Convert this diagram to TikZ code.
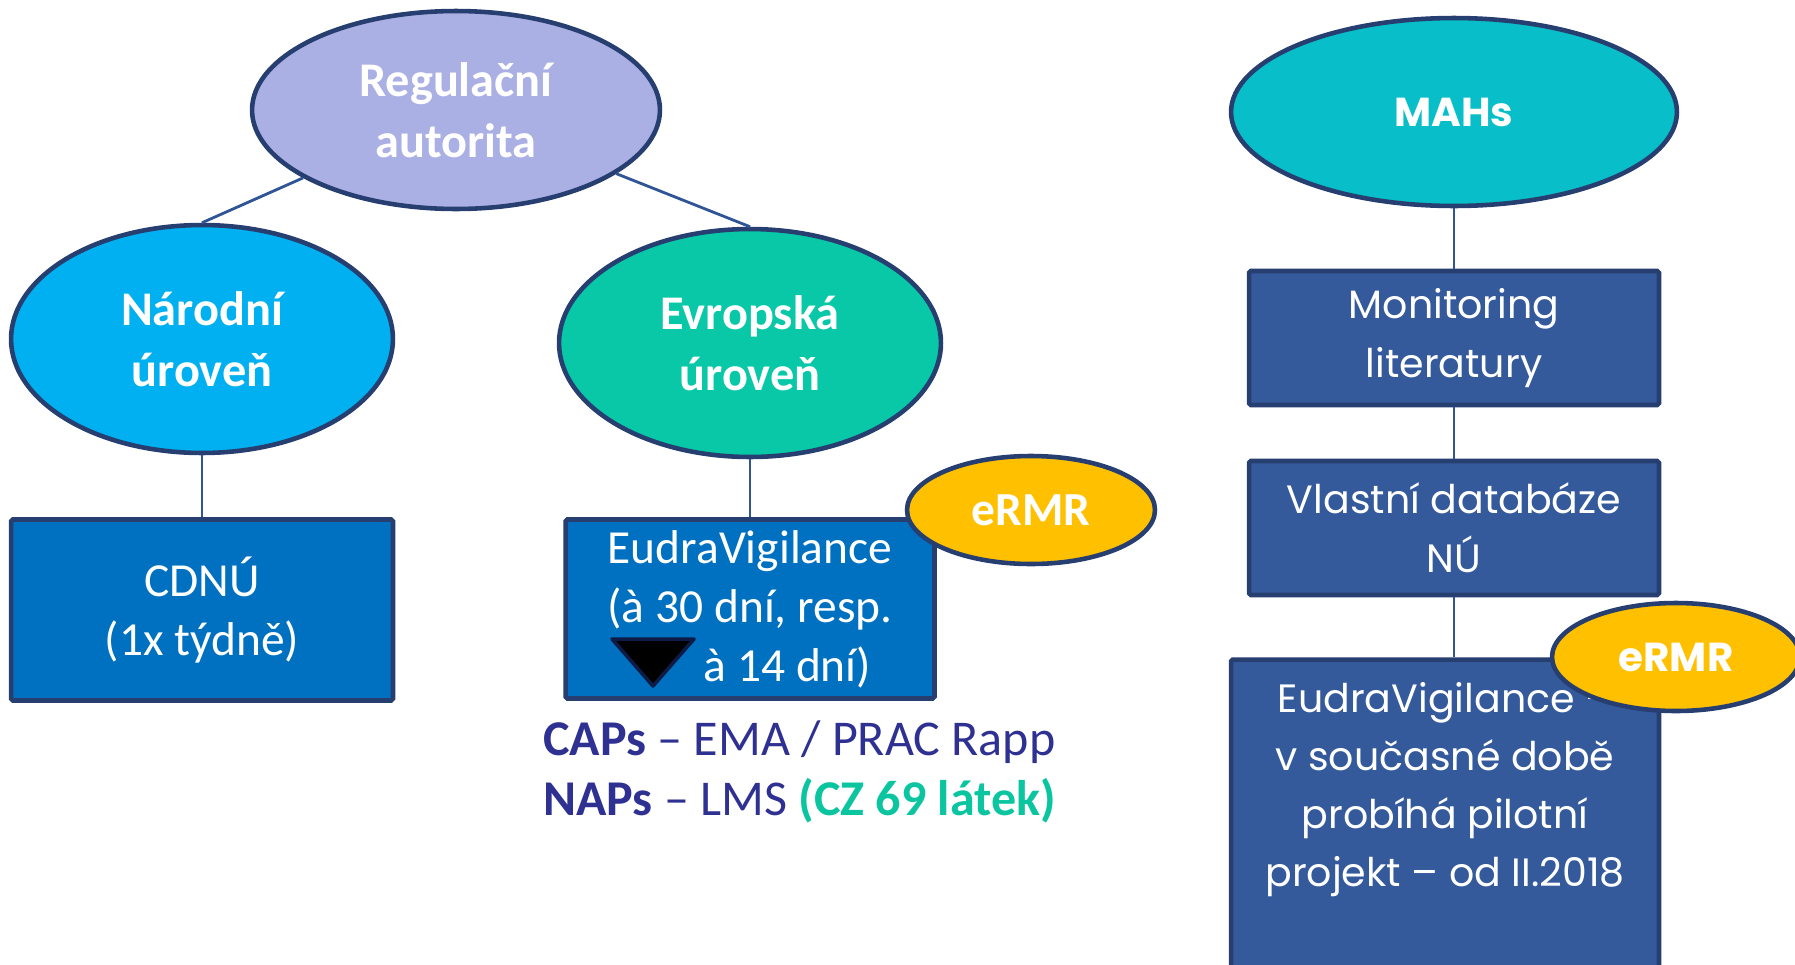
\documentclass[tikz,border=0pt]{standalone}
\usepackage{fontspec}
\setmainfont{Carlito}
\newfontfamily\widefont{Poppins}
\usetikzlibrary{positioning,shapes.geometric}

\definecolor{navy}{RGB}{38,62,112}
\definecolor{linkblue}{RGB}{47,85,151}
\definecolor{lavender}{RGB}{170,176,228}
\definecolor{skyblue}{RGB}{0,176,240}
\definecolor{evrgreen}{RGB}{8,200,168}
\definecolor{mahcyan}{RGB}{8,190,200}
\definecolor{boxblue}{RGB}{0,112,192}
\definecolor{rboxblue}{RGB}{52,90,155}
\definecolor{tagyellow}{RGB}{255,192,0}
\definecolor{capsblue}{RGB}{46,49,146}
\definecolor{latekgreen}{RGB}{11,197,160}
\definecolor{darknavy}{RGB}{13,27,70}

\begin{document}
\begin{tikzpicture}[x=0.02cm,y=-0.02cm,
	oval/.style={draw=navy, line width=2.6pt, ellipse, text=white, align=center, font=\bfseries\fontsize{27.5}{34.5}\selectfont},
	box/.style={draw=navy, line width=2.6pt, rounded corners=1pt, fill=boxblue, text=white, align=center, font=\fontsize{27}{33.5}\selectfont},
	rbox/.style={draw=navy, line width=2.6pt, rounded corners=1pt, fill=rboxblue, text=white, align=center, font=\widefont\fontsize{22.5}{33.5}\selectfont, minimum width=8.2cm, minimum height=2.68cm},
	tag/.style={draw=navy, line width=2.6pt, ellipse, fill=tagyellow, text=white, minimum width=4.96cm, minimum height=2.16cm},
	link/.style={draw=linkblue, line width=1.6pt}]
			\useasboundingbox (0,0) rectangle (1795,964);
			\clip (0,0) rectangle (1795,964);
			
			% regulacni autorita
			\node[oval, fill=lavender, minimum width=8.16cm, minimum height=3.96cm] (reg) at (456,110) {Regulační\\autorita};
			\node[oval, fill=skyblue, minimum width=7.64cm, minimum height=4.56cm] (nar) at (202,339) {Národní\\úroveň};
			\node[oval, fill=evrgreen, minimum width=7.64cm, minimum height=4.56cm] (evr) at (750,343) {Evropská\\úroveň};
			
			\node[box, minimum width=7.64cm, minimum height=3.62cm] (cdnu) at (202,610) {CDNÚ\\(1x týdně)};
			\node[box, minimum width=7.38cm, minimum height=3.58cm] (eudra) at (750,609) {EudraVigilance\\(à 30 dní, resp.\\\hspace*{1.5cm}à 14 dní)};
			\node[tag, font=\bfseries\fontsize{27}{32}\selectfont] (ermrA) at (1031,510) {eRMR};
			\filldraw[fill=black, draw=darknavy, line width=2pt, line join=round] (612,639) -- (694,639) -- (653,686) -- cycle;
			
			\node[anchor=west, inner sep=0pt, align=left, text=capsblue, font=\fontsize{28.5}{34.5}\selectfont] (caps) at (543,772)
				{\textbf{CAPs} – EMA / PRAC Rapp\\\textbf{NAPs} – LMS \textcolor{latekgreen}{\textbf{(CZ 69 látek)}}};
			
			\draw[link] (reg) -- (nar.north);
			\draw[link] (reg) -- (evr.north);
			\draw[link] (nar) -- (cdnu);
			\draw[link] (evr) -- (eudra);
			
			% MAHs
			\node[oval, fill=mahcyan, minimum width=8.92cm, minimum height=3.76cm, font=\widefont\bfseries\fontsize{23}{30}\selectfont] (mahs) at (1454,112) {MAHs};
			\node[rbox] (monit) at (1454,338) {Monitoring\\literatury};
			\node[rbox] (vlast) at (1454,528) {Vlastní databáze\\NÚ};
			\node[rbox, minimum width=8.56cm, minimum height=6.42cm] (eudraB) at (1445,820) {};
			\node[text=white, align=center, font=\widefont\fontsize{22.5}{33}\selectfont] (eudraBtxt) at (1445,790)
				{EudraVigilance –\\v současné době\\probíhá pilotní\\projekt – od II.2018};
			\node[tag, font=\widefont\bfseries\fontsize{23}{30}\selectfont] (ermrB) at (1676,657) {eRMR};
			
			\draw[link] (mahs) -- (monit);
			\draw[link] (monit) -- (vlast);
			\draw[link, line width=1pt] (vlast.south) -- (vlast.south |- eudraB.north);
\end{tikzpicture}
\end{document}
